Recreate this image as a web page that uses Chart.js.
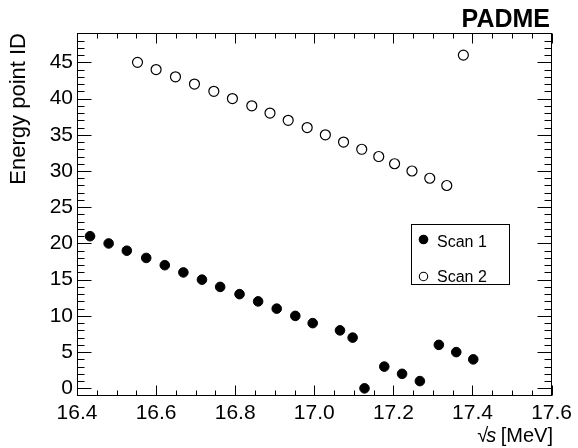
<!DOCTYPE html>
<html><head><meta charset="utf-8">
<script src="https://cdn.jsdelivr.net/npm/chart.js@4.4.0/dist/chart.umd.min.js"></script>
<style>html,body{margin:0;padding:0;background:#fff;}</style>
</head><body>
<canvas id="c" width="578" height="448"></canvas>
<script>
// ---- data ----
const scan1Energy = [16.433,16.480,16.526,16.575,16.622,16.669,16.716,16.762,16.811,16.858,16.905,16.952,16.996,17.065,17.097,17.127,17.177,17.222,17.267,17.315,17.359,17.402];
const scan1Id     = [21,20,19,18,17,16,15,14,13,12,11,10,9,8,7,0,3,2,1,6,5,4];
const scan2Energy = [16.553,16.600,16.649,16.697,16.746,16.793,16.842,16.888,16.934,16.982,17.028,17.074,17.120,17.163,17.203,17.247,17.292,17.335,17.377];
const scan2Id     = [45,44,43,42,41,40,39,38,37,36,35,34,33,32,31,30,29,28,46];
const seriesLabels = ['Scan 1','Scan 2'];
const xTickValues = [16.4,16.6,16.8,17.0,17.2,17.4,17.6];
const yTickValues = [0,5,10,15,20,25,30,35,40,45];
const xRange = [16.4,17.6];
const yRange = [-0.92,49.05];
const yTitle = 'Energy point ID';
const xTitleParts = ['\u221A','s',' [MeV]'];
const stampText = 'PADME';

const FONT = '"Liberation Sans", Arial, Helvetica, sans-serif';

const toPoints = (xs, ys) => xs.map((x,i)=>({x:x, y:ys[i]}));

const rootAxes = {
  id:'rootAxes',
  afterDatasetsDraw(chart){
    const {ctx, chartArea:a, scales:{x, y}} = chart;
    ctx.save();
    ctx.strokeStyle = '#000';
    ctx.lineWidth = 1;
    const L = Math.floor(a.left)+0.5, R = Math.floor(a.right)+0.5, T = Math.floor(a.top)+0.5, B = Math.floor(a.bottom)+0.5;
    ctx.beginPath();
    // x ticks (bottom & top), inward
    const xStepMinor = 0.05;
    for (let k=0; k<=Math.round((xRange[1]-xRange[0])/xStepMinor); k++){
      const v = xRange[0] + k*xStepMinor;
      const major = (k % 4) === 0;
      const px = Math.round(x.getPixelForValue(v))+0.5;
      const len = major ? 10 : 5;
      ctx.moveTo(px, B); ctx.lineTo(px, B-len);
      ctx.moveTo(px, T); ctx.lineTo(px, T+len);
    }
    // y ticks (left & right), inward
    for (let v=0; v<=Math.floor(yRange[1]); v++){
      const major = (v % 5) === 0;
      const py = Math.round(y.getPixelForValue(v))+0.5;
      const len = major ? 14 : 7;
      ctx.moveTo(L, py); ctx.lineTo(L+len, py);
      ctx.moveTo(R, py); ctx.lineTo(R-len, py);
    }
    ctx.stroke();
    ctx.strokeRect(L, T, R-L, B-T);

    // x title: sqrt s [MeV]
    ctx.fillStyle = '#000';
    ctx.textBaseline = 'alphabetic';
    ctx.textAlign = 'left';
    const fN = '20px ' + FONT, fI = 'italic 20px ' + FONT;
    ctx.font = fN; const w3 = ctx.measureText(xTitleParts[2]).width; const w1 = ctx.measureText(xTitleParts[0]).width;
    ctx.font = fI; const w2 = ctx.measureText(xTitleParts[1]).width;
    let xr = 553 - w3 - w2 - (w1 - 3);
    const by = 442;
    ctx.font = fN; ctx.fillText(xTitleParts[0], xr, by); xr += w1 - 2;
    ctx.font = fI; ctx.fillText(xTitleParts[1], xr, by); xr += w2 - 1;
    ctx.font = fN; ctx.fillText(xTitleParts[2], xr, by);

    // stamp
    ctx.font = 'bold 25px ' + FONT;
    ctx.textAlign = 'right';
    ctx.fillText(stampText, 550, 27);

    // legend
    ctx.lineWidth = 1;
    ctx.strokeRect(411.5, 224.5, 98, 60);
    ctx.beginPath(); ctx.arc(423.5, 239.5, 4.8, 0, Math.PI*2); ctx.fillStyle='#000'; ctx.fill();
    ctx.beginPath(); ctx.arc(423.5, 276.5, 4.2, 0, Math.PI*2); ctx.lineWidth=1.1; ctx.stroke();
    ctx.font = '16px ' + FONT;
    ctx.textAlign = 'left';
    ctx.fillText(seriesLabels[0], 437, 246.5);
    ctx.fillText(seriesLabels[1], 437, 282);
    ctx.restore();
  }
};

new Chart(document.getElementById('c'), {
  type:'scatter',
  data:{
    datasets:[
      {label:seriesLabels[0], data:toPoints(scan1Energy, scan1Id), pointRadius:4.8, pointHoverRadius:4.8,
       pointBackgroundColor:'#000', pointBorderColor:'#000', pointBorderWidth:1, showLine:false},
      {label:seriesLabels[1], data:toPoints(scan2Energy, scan2Id), pointRadius:5, pointHoverRadius:5,
       pointBackgroundColor:'rgba(0,0,0,0)', pointBorderColor:'#000', pointBorderWidth:1.2, showLine:false}
    ]
  },
  options:{
    responsive:false, animation:false, devicePixelRatio:1,
    layout:{padding:{top:33, right:23, left:0, bottom:0}},
    plugins:{legend:{display:false}, tooltip:{enabled:false}},
    scales:{
      x:{
        type:'linear', min:xRange[0], max:xRange[1],
        grid:{display:false, drawTicks:false}, border:{display:false},
        afterBuildTicks:s=>{ s.ticks = xTickValues.map(v=>({value:v})); },
        afterFit:s=>{ s.height = 53; },
        ticks:{includeBounds:false, autoSkip:false, maxRotation:0, padding:6, color:'#000',
               font:{family:FONT, size:21}, callback:v=>Number(v).toFixed(1)}
      },
      y:{
        type:'linear', min:yRange[0], max:yRange[1],
        grid:{display:false, drawTicks:false}, border:{display:false},
        afterBuildTicks:s=>{ s.ticks = yTickValues.map(v=>({value:v})); },
        afterFit:s=>{ s.width = 77; },
        ticks:{includeBounds:false, autoSkip:false, padding:4, color:'#000',
               font:{family:FONT, size:21}, callback:v=>String(v)},
        title:{display:true, text:yTitle, align:'end', color:'#000', padding:{top:6, bottom:0},
               font:{family:FONT, size:22}}
      }
    }
  },
  plugins:[rootAxes]
});
</script>
</body></html>
